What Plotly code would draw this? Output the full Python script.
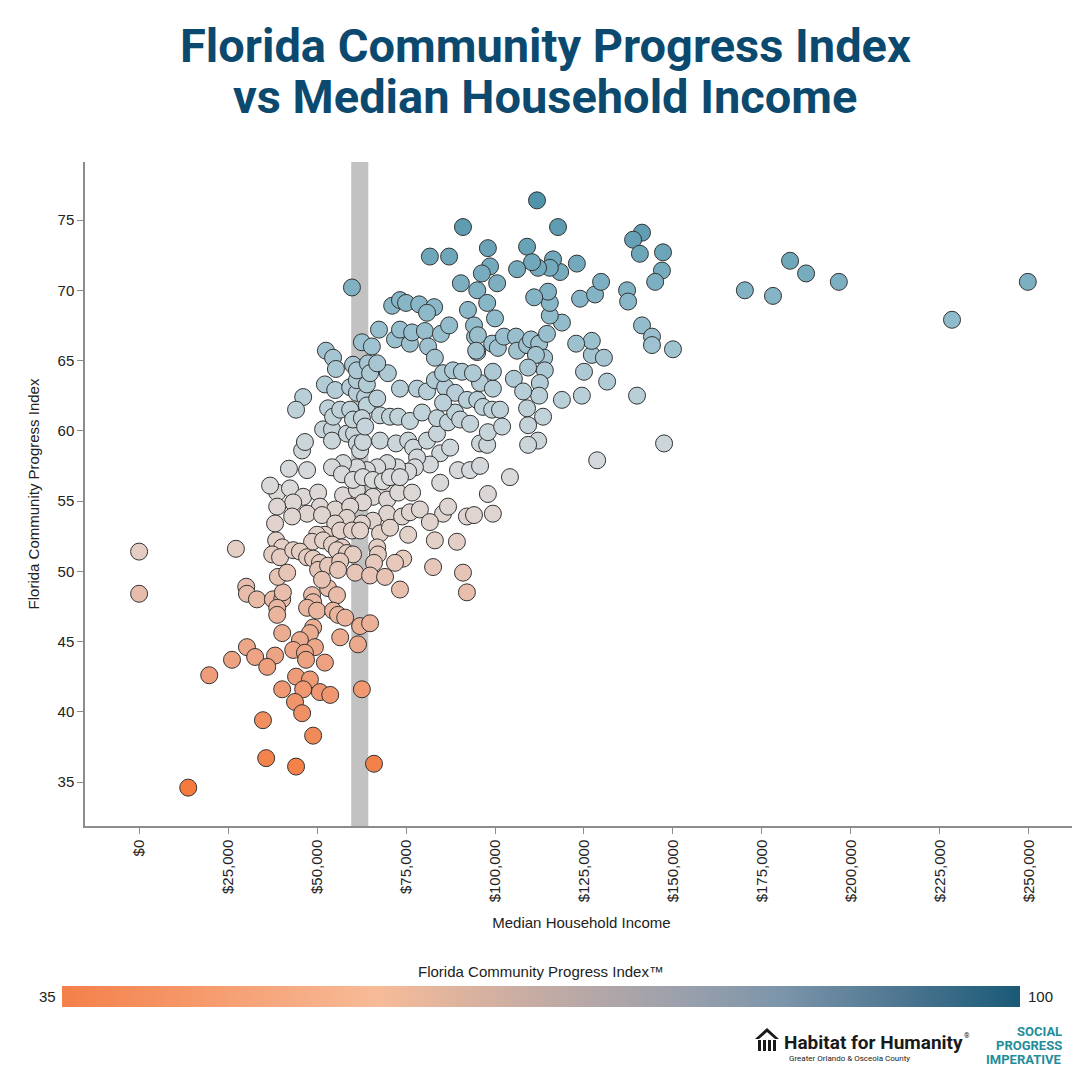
import plotly.graph_objects as go

# ---------------- data (income in $ thousands) ----------------
low_income_k = [0, 0, 13.8, 19.7, 27.2, 26.1, 30.1, 30.3, 33.1, 37.6, 40.2, 40.4, 38.8, 38.8, 40.2,
                48.6, 48.9, 47.2, 50.0, 53.1, 55.6, 54.5, 55.9, 57.9, 62.1, 64.9, 61.5, 56.5, 48.9,
                48.0, 45.2, 43.3, 49.4, 46.6, 46.9, 52.2, 30.3, 32.6, 38.2, 36.0, 44.1, 48.0, 46.1,
                40.2, 50.8, 53.7, 43.8, 45.8, 34.8, 48.9, 35.7, 44.1, 66.0, 62.6]
low_cpi = [51.4, 48.4, 34.6, 42.6, 51.6, 43.7, 48.9, 48.4, 48.0, 48.0, 48.0, 48.5, 47.4, 46.9, 45.6,
           48.3, 47.8, 47.4, 47.2, 48.8, 48.3, 47.2, 46.9, 46.7, 46.1, 46.3, 44.8, 45.3, 46.0,
           45.6, 45.1, 44.4, 44.6, 44.2, 43.7, 43.5, 44.6, 43.9, 44.0, 43.2, 42.5, 42.3, 41.6,
           41.6, 41.4, 41.2, 40.7, 39.9, 39.4, 38.3, 36.7, 36.1, 36.3, 41.6]

mid_income_k = [38.8, 42.4, 46.1, 50.3, 57.3, 61.2, 69.1, 65.7, 62.9, 69.7, 72.8, 76.7, 43.3, 38.8,
                50.8, 55.1, 59.3, 47.2, 43.0, 69.7, 73.9, 76.1, 78.9, 85.4, 86.8, 92.1, 94.1, 99.4,
                51.4, 58.4, 65.7, 62.6, 55.1, 81.7, 38.2, 52.2, 50.0, 56.5, 59.8, 62.1, 67.7, 70.5,
                75.6, 83.1, 89.3, 48.6, 51.7, 54.2, 57.0, 55.6, 58.4, 60.1, 38.5, 40.2, 37.4, 39.6,
                43.3, 45.2, 47.2, 48.9, 66.9, 67.1, 66.0, 74.2, 50.8, 50.3, 53.1, 56.5, 55.9, 60.7,
                64.9, 69.1, 71.9, 82.6, 91.0, 39.0, 41.6, 73.3, 92.1, 36.8, 51.4]
mid_cpi = [55.6, 55.9, 55.3, 55.6, 55.4, 55.8, 56.0, 55.3, 54.9, 55.1, 55.6, 55.6, 54.9, 54.6,
           54.6, 54.4, 54.6, 54.1, 53.9, 54.1, 53.9, 54.2, 54.4, 54.1, 54.6, 53.9, 54.0, 54.1,
           54.0, 53.8, 53.6, 53.4, 53.4, 53.5, 53.4, 52.6, 52.6, 52.9, 52.9, 52.9, 52.7, 53.1,
           52.6, 52.2, 52.1, 52.1, 52.2, 51.9, 51.7, 51.5, 51.3, 51.2, 52.2, 51.7, 51.2, 51.0,
           51.5, 51.4, 51.0, 50.9, 51.7, 51.2, 50.6, 50.9, 50.6, 50.1, 50.4, 50.7, 50.1, 49.9,
           49.7, 49.6, 50.6, 50.3, 49.9, 49.6, 49.9, 48.7, 48.5, 56.1, 49.4]

upmid_income_k = [42.1, 47.2, 45.8, 46.6, 51.7, 54.2, 54.2, 58.4, 60.4, 61.2, 62.1, 62.9, 67.7, 72.2,
                  75.6, 77.0, 80.9, 83.7, 84.6, 87.4, 95.8, 97.8, 98.0, 89.6, 93.0, 95.8, 81.7, 78.1,
                  77.5, 75.6, 72.5, 69.7, 66.9, 64.0, 61.2, 57.3, 54.2, 57.0, 60.1, 62.9, 65.7, 68.5,
                  70.5, 73.3, 84.6, 98.0, 104.2]
upmid_cpi = [57.3, 57.2, 58.6, 59.2, 60.1, 60.1, 59.3, 59.8, 59.8, 59.1, 58.6, 59.2, 59.3, 59.1,
             59.3, 58.8, 59.3, 59.8, 58.4, 58.8, 59.1, 59.0, 59.9, 57.2, 57.2, 57.5, 57.6, 58.1,
             57.4, 57.1, 57.4, 57.7, 57.4, 57.2, 57.4, 57.7, 57.4, 56.9, 56.5, 56.7, 56.5, 56.4,
             56.7, 56.7, 56.3, 55.5, 56.7]

upper_income_k = [52.2, 55.1, 59.3, 61.2, 63.5, 64.0, 66.9, 61.2, 64.0, 46.1, 44.1, 53.1, 54.5, 56.5,
                  59.3, 60.1, 62.6, 63.5, 67.7, 70.5, 72.8, 76.1, 79.5, 83.7, 86.8, 88.8, 90.2, 93.0,
                  73.3, 78.1, 80.9, 83.1, 86.0, 88.8, 85.4, 92.1, 95.0, 95.8, 96.6, 99.2, 101.4, 99.4,
                  102.0, 69.9]
upper_cpi = [63.3, 62.9, 63.1, 62.7, 62.4, 61.8, 62.3, 63.6, 63.3, 62.4, 61.5, 61.6, 61.0, 61.5,
             61.5, 60.8, 60.9, 60.3, 61.1, 61.0, 61.0, 60.7, 61.3, 60.9, 60.6, 61.3, 60.8, 60.5,
             63.0, 63.0, 62.8, 63.6, 63.1, 62.7, 62.0, 62.2, 62.2, 63.4, 61.7, 61.5, 61.5, 63.0,
             60.3, 64.1]

high_income_k = [52.5, 54.5, 55.3, 62.6, 65.4, 67.4, 71.9, 73.3, 76.1, 76.7, 80.3, 81.2, 83.1, 84.8,
                 87.1, 60.1, 61.2, 64.3, 64.9, 66.9, 85.4, 88.2, 90.7, 93.8, 94.4, 95.0, 71.1, 73.3,
                 75.0, 78.7, 82.9, 80.9, 59.8, 99.4]
high_cpi = [65.7, 65.2, 64.4, 66.3, 66.0, 67.2, 66.5, 67.2, 66.2, 67.0, 67.1, 66.0, 65.2, 66.9,
            67.5, 64.7, 64.3, 64.8, 64.1, 64.8, 64.1, 64.3, 64.2, 64.1, 66.7, 65.6, 68.9, 69.3,
            69.1, 69.0, 68.8, 68.4, 70.2, 64.2]

top_income_k = [91.0, 81.7, 87.1, 98.0, 109.0, 117.7, 111.8, 123.0, 141.3, 138.8, 140.7, 147.2, 146.9,
                145.0, 98.6, 96.3, 100.6, 90.4, 95.0, 97.8, 92.4, 100.0, 94.1, 95.2, 94.7, 99.2, 100.8,
                102.5, 105.9, 106.2, 109.0, 110.1, 112.4, 114.6, 113.8, 111.5, 109.3, 114.0, 112.6,
                112.4, 113.5, 109.3, 112.1, 109.3, 105.3, 107.9, 109.0, 128.7, 147.5, 118.8, 124.4,
                131.5, 125.0, 127.2, 130.6, 127.2, 122.8, 118.8, 115.4, 115.4, 114.9, 111.0, 123.9,
                128.1, 129.8, 137.1, 137.4, 141.3, 144.1, 144.1, 150.0, 139.9, 118.3, 116.3, 115.4,
                112.1, 110.4, 106.2]
top_cpi = [74.5, 72.4, 72.4, 73.0, 73.1, 74.5, 76.4, 71.9, 74.1, 73.6, 72.6, 72.7, 71.4,
           70.6, 71.7, 71.2, 70.5, 70.5, 70.0, 69.1, 68.6, 68.0, 67.5, 66.8, 65.7, 66.2, 65.9,
           66.7, 66.7, 65.7, 66.1, 66.5, 66.2, 66.9, 65.2, 65.4, 64.5, 64.3, 63.4,
           62.5, 61.0, 60.4, 59.3, 59.0, 63.7, 62.8, 61.6, 57.9, 59.1, 62.2, 62.5,
           63.5, 64.2, 65.4, 65.2, 66.4, 66.2, 67.7, 68.2, 69.1, 69.9, 69.5, 69.4,
           69.7, 70.6, 70.0, 69.2, 67.5, 66.7, 66.1, 65.8, 62.5, 71.3, 72.2, 71.6,
           71.6, 72.0, 71.5]

outlier_income_k = [170.2, 178.1, 182.9, 187.4, 196.6, 228.4, 249.7]
outlier_cpi = [70.0, 69.6, 72.1, 71.2, 70.6, 67.9, 70.6]

# state median household income band ($)
band_income = [59600, 64400]

x_ticks = [0, 25000, 50000, 75000, 100000, 125000, 150000, 175000, 200000, 225000, 250000]
x_tick_labels = ["$0", "$25,000", "$50,000", "$75,000", "$100,000", "$125,000", "$150,000",
                 "$175,000", "$200,000", "$225,000", "$250,000"]
y_ticks = [35, 40, 45, 50, 55, 60, 65, 70, 75]
scale_range = [35, 100]

income = [v * 1000 for v in (low_income_k + mid_income_k + upmid_income_k + upper_income_k
                             + high_income_k + top_income_k + outlier_income_k)]
cpi = low_cpi + mid_cpi + upmid_cpi + upper_cpi + high_cpi + top_cpi + outlier_cpi

# ---------------- styling ----------------
marker_scale = [[0.0, "#F47A3C"], [0.2, "#EE9E7C"], [0.4, "#E5CEC4"], [0.52, "#D9DADB"],
                [0.65, "#BBD0D9"], [0.8, "#8CB9C9"], [1.0, "#4B90A8"]]
bar_scale = [[0.0, "#F4804A"], [0.33, "#F7BB98"], [0.5, "#C4ABA4"], [0.65, "#9AA0AC"],
             [0.75, "#7C95AA"], [0.88, "#4C7590"], [1.0, "#195A77"]]

OFF = 8                      # page offset of the figure (body margin)
W, H = 1080 - OFF, 1080 - OFF
PL, PR, PT, PB = 85, 1078, 162, 826      # plot area in page pixels
L, T = PL - OFF, PT - OFF
R, B = W - (PR - OFF), H - (PB - OFF)
PW, PH = PR - PL, PB - PT


def px(xp):
    return (xp - PL) / PW


def py(yp):
    return (PB - yp) / PH


AX_FONT = dict(family="Liberation Sans, Arial", size=15, color="#222222")

fig = go.Figure()

fig.add_trace(go.Scatter(
    x=income, y=cpi, mode="markers", hoverinfo="x+y",
    marker=dict(size=17, color=cpi, colorscale=marker_scale, cmin=34.5, cmax=77,
                line=dict(color="#333333", width=1), opacity=1, showscale=False),
    showlegend=False,
))

# colour scale bar shown below the chart
fig.add_trace(go.Scatter(
    x=[None], y=[None], mode="markers", showlegend=False, hoverinfo="skip",
    marker=dict(color=scale_range, cmin=scale_range[0], cmax=scale_range[1],
                colorscale=bar_scale, showscale=True,
                colorbar=dict(orientation="h", x=px(541), xanchor="center",
                              y=py(988), yanchor="middle", len=958 / PW, lenmode="fraction",
                              thickness=21, outlinewidth=0, xpad=0, ypad=0,
                              showticklabels=False, ticks="",
                              title=dict(text="Florida Community Progress Index™", side="top",
                                         font=dict(family="Liberation Sans, Arial", size=15,
                                                   color="#222222")))),
))

fig.add_shape(type="rect", xref="x", yref="y domain", x0=band_income[0], x1=band_income[1],
              y0=0, y1=1, fillcolor="#C2C2C2", line=dict(width=0), layer="below")

fig.update_layout(
    width=W, height=H,
    margin=dict(l=L, r=R, t=T, b=B),
    paper_bgcolor="white", plot_bgcolor="white",
    xaxis=dict(range=[-15200, 263800], tickvals=x_ticks, ticktext=x_tick_labels, tickangle=-90,
               showline=True, linecolor="#8C8C8C", linewidth=1.5, ticks="outside", ticklen=6,
               tickcolor="#8C8C8C", showgrid=False, zeroline=False, tickfont=AX_FONT,
               title=dict(text="Median Household Income", font=AX_FONT, standoff=16)),
    yaxis=dict(range=[31.87, 79.13], tickvals=y_ticks, showline=True, linecolor="#8C8C8C",
               linewidth=1.5, ticks="outside", ticklen=6, tickcolor="#8C8C8C", showgrid=False,
               zeroline=False, tickfont=AX_FONT,
               title=dict(text="Florida Community Progress Index", font=AX_FONT, standoff=14)),
)

# two-line title
TITLE_FONT = dict(family="Roboto", size=47, color="#0B4A6E")
for line, yc in [("Florida Community Progress Index", 45), ("vs Median Household Income", 97)]:
    fig.add_annotation(xref="paper", yref="paper", x=px(545), y=py(yc), xanchor="center",
                       yanchor="middle", showarrow=False, text="<b>" + line + "</b>",
                       font=TITLE_FONT)

for txt, xp in [("35", 47), ("100", 1040)]:
    fig.add_annotation(xref="paper", yref="paper", x=px(xp), y=py(996), xanchor="center",
                       yanchor="middle", showarrow=False, text=txt,
                       font=dict(family="Liberation Sans, Arial", size=15, color="#222222"))

# logos (text re-creations)
fig.add_annotation(xref="paper", yref="paper", x=px(782), y=py(1042), xanchor="left",
                   yanchor="middle", showarrow=False,
                   text="<b>Habitat for Humanity</b>",
                   font=dict(family="Roboto", size=19, color="#1A1A1A"))
fig.add_annotation(xref="paper", yref="paper", x=px(962), y=py(1036), xanchor="left",
                   yanchor="middle", showarrow=False, text="®",
                   font=dict(family="Roboto", size=7, color="#1A1A1A"))
fig.add_annotation(xref="paper", yref="paper", x=px(787), y=py(1058), xanchor="left",
                   yanchor="middle", showarrow=False,
                   text="Greater Orlando &amp; Osceola County",
                   font=dict(family="Roboto", size=8, color="#1A1A1A"))
for i, word in enumerate(["SOCIAL", "PROGRESS", "IMPERATIVE"]):
    fig.add_annotation(xref="paper", yref="paper", x=px(1064), y=py(1031 + 14 * i),
                       xanchor="right", yanchor="middle", showarrow=False,
                       text="<b>" + word + "</b>",
                       font=dict(family="Roboto", size=13, color="#1F8D9A"))

# simple house glyph for the Habitat logo
fig.add_shape(type="path", xref="paper", yref="paper",
              path=f"M {px(755)},{py(1039)} L {px(767)},{py(1028)} L {px(779)},{py(1039)} "
                   f"L {px(775)},{py(1039)} L {px(767)},{py(1032)} L {px(759)},{py(1039)} Z",
              fillcolor="#1A1A1A", line=dict(width=0))
for k in range(4):
    fig.add_shape(type="rect", xref="paper", yref="paper",
                  x0=px(758 + 5 * k), x1=px(761 + 5 * k), y0=py(1051), y1=py(1040),
                  fillcolor="#1A1A1A", line=dict(width=0))

fig.write_html("out.html")
